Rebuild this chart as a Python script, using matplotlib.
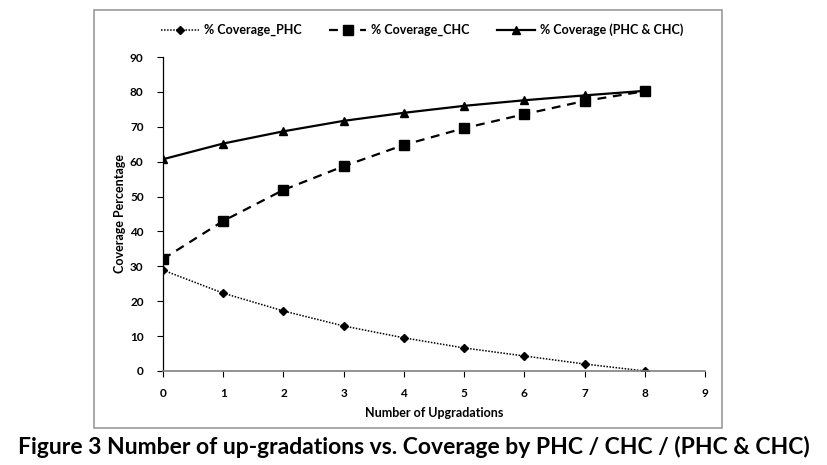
import matplotlib.pyplot as plt
from matplotlib.patches import Rectangle

upgradations = [0, 1, 2, 3, 4, 5, 6, 7, 8]
coverage_phc = [28.9, 22.3, 17.2, 12.9, 9.5, 6.6, 4.3, 2.0, 0.0]
coverage_chc = [32.1, 43.0, 51.9, 58.7, 64.8, 69.6, 73.6, 77.4, 80.2]
coverage_both = [60.7, 65.2, 68.7, 71.7, 74.0, 76.0, 77.6, 79.0, 80.3]

plt.rcParams['font.family'] = ['Lato', 'DejaVu Sans']
plt.rcParams['font.weight'] = 'bold'

fig = plt.figure(figsize=(8.28, 4.65), dpi=100)
ax = fig.add_axes([0.1969, 0.2022, 0.6545, 0.6752])

# chart area border
fig.patches.append(Rectangle((94 / 828, 1 - 428 / 465), (722 - 94) / 828, (428 - 10) / 465,
                             transform=fig.transFigure, fill=False, edgecolor='#9a9a9a', lw=1.2))

ax.plot(upgradations, coverage_phc, color='black', linestyle=(0, (1, 1)), lw=1.1,
        marker='D', markersize=4, label='% Coverage_PHC')
ax.plot(upgradations, coverage_chc, color='black', linestyle=(0, (4, 3)), lw=1.6,
        marker='s', markersize=6.5, label='% Coverage_CHC')
ax.plot(upgradations, coverage_both, color='black', linestyle='-', lw=1.6,
        marker='^', markersize=6, label='% Coverage (PHC & CHC)')

ax.set_xlim(0, 9)
ax.set_ylim(0, 90)
ax.set_xticks(range(0, 10))
ax.set_yticks(range(0, 91, 10))
ax.tick_params(labelsize=8.5, length=4, width=0.8, pad=8)
ax.tick_params(axis='y', pad=10)
for s in ['top', 'right']:
    ax.spines[s].set_visible(False)
ax.spines['bottom'].set_color('#808080')
ax.spines['bottom'].set_linewidth(1.2)
ax.spines['left'].set_linewidth(0.9)
ax.tick_params(axis='x', color='black')

ax.set_xlabel('Number of Upgradations', fontsize=9, fontweight='bold', labelpad=6)
ax.set_ylabel('Coverage Percentage', fontsize=9, fontweight='bold', labelpad=3)

fig.legend(loc='center', bbox_to_anchor=(0.51, 1 - 30 / 465), ncol=3, frameon=False,
           fontsize=9, handlelength=3, columnspacing=2.2, handletextpad=0.4)

fig.text(0.5, 1 - 447 / 465, 'Figure 3 Number of up-gradations vs. Coverage by PHC / CHC / (PHC & CHC)',
         ha='center', va='center', fontsize=16.5, fontweight='bold')

fig.savefig('out.png', dpi=100)
